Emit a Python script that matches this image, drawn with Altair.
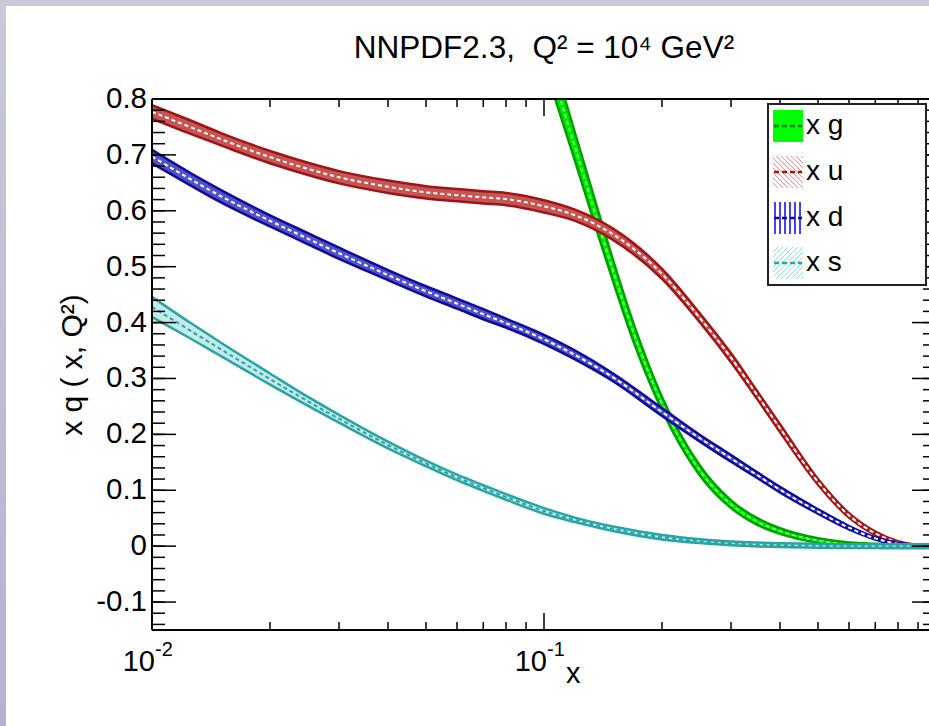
import math
import altair as alt
import pandas as pd

# ---------------- data ----------------
x_vals = [0.01, 0.0125, 0.015, 0.02, 0.025, 0.03, 0.04, 0.05, 0.06, 0.07, 0.08, 0.1,
          0.12, 0.15, 0.2, 0.25, 0.3, 0.35, 0.4, 0.5, 0.6, 0.7, 0.8, 0.9, 0.96]

xu = [0.777, 0.750, 0.728, 0.696, 0.675, 0.660, 0.643, 0.633, 0.628, 0.624, 0.621, 0.608,
      0.592, 0.558, 0.487, 0.408, 0.337, 0.270, 0.211, 0.115, 0.055, 0.023, 0.007, 0.001, 0.0]
xu_err = [0.012, 0.012, 0.011, 0.011, 0.011, 0.011, 0.011, 0.011, 0.011, 0.011, 0.011, 0.011,
          0.010, 0.010, 0.009, 0.008, 0.008, 0.007, 0.007, 0.005, 0.004, 0.003, 0.002, 0.001, 0.001]

xd = [0.697, 0.657, 0.626, 0.582, 0.550, 0.524, 0.485, 0.456, 0.434, 0.415, 0.399, 0.370,
      0.342, 0.302, 0.240, 0.193, 0.157, 0.127, 0.101, 0.062, 0.033, 0.014, 0.004, 0.0009, 0.0]
xd_err = [0.012, 0.011, 0.011, 0.010, 0.010, 0.010, 0.009, 0.009, 0.009, 0.009, 0.008, 0.008,
          0.008, 0.007, 0.007, 0.006, 0.006, 0.005, 0.005, 0.004, 0.003, 0.002, 0.002, 0.001, 0.001]

xs = [0.428, 0.386, 0.352, 0.299, 0.259, 0.228, 0.181, 0.148, 0.123, 0.104, 0.088, 0.063,
      0.047, 0.031, 0.016, 0.009, 0.005, 0.003, 0.0018, 0.0006, 0.0, 0.0, 0.0, 0.0, 0.0]
xs_err = [0.018, 0.014, 0.012, 0.010, 0.008, 0.007, 0.006, 0.005, 0.005, 0.005, 0.005, 0.005,
          0.004, 0.004, 0.004, 0.0035, 0.0035, 0.0035, 0.0035, 0.0035, 0.0035, 0.0035, 0.0035, 0.0035, 0.0035]

xg_x = [0.09, 0.1, 0.11, 0.12, 0.13, 0.14, 0.15, 0.17, 0.2, 0.25, 0.3, 0.35, 0.4,
        0.5, 0.6, 0.7, 0.8, 0.9, 0.96]
xg = [1.0, 0.893, 0.800, 0.714, 0.634, 0.560, 0.493, 0.378, 0.255, 0.135, 0.075, 0.044, 0.027,
      0.010, 0.003, 0.0008, 0.0, 0.0, 0.0]
xg_err = [0.035, 0.032, 0.028, 0.025, 0.023, 0.021, 0.019, 0.016, 0.012, 0.009, 0.007, 0.006,
          0.005, 0.004, 0.0035, 0.0035, 0.0035, 0.0035, 0.0035]

y_major = [-0.1, 0.0, 0.1, 0.2, 0.3, 0.4, 0.5, 0.6, 0.7, 0.8]
y_labels = ["-0.1", "0", "0.1", "0.2", "0.3", "0.4", "0.5", "0.6", "0.7", "0.8"]
y_minor = [round(-0.14 + 0.02 * i, 2) for i in range(48)]
x_major = [0.01, 0.1]
x_major_base = ["10", "10"]
x_major_exp = ["-2", "-1"]
x_minor = [k * 0.01 for k in range(2, 10)] + [k * 0.1 for k in range(2, 10)]

title_text = "NNPDF2.3,\u00a0\u00a0Q\u00b2 = 10\u2074 GeV\u00b2"
ytitle_text = "x q ( x, Q\u00b2)"

legend_names = ["x g", "x u", "x d", "x s"]

# ---------------- layout ----------------
W, H = 777, 531
PXDEC = 392.0
XMAX = 10 ** (W / PXDEC - 2)
FONT = "Liberation Sans"

xscale = alt.Scale(type="log", domain=[0.01, XMAX])
yscale = alt.Scale(domain=[-0.15, 0.8])


def X(f="x"):
    return alt.X(f"{f}:Q", scale=xscale, axis=None)


def Y(f):
    return alt.Y(f"{f}:Q", scale=yscale, axis=None)


def band(xs_, c, err, dark, fill, center):
    df = pd.DataFrame({"x": xs_, "c": c,
                       "lo": [a - e for a, e in zip(c, err)],
                       "hi": [a + e for a, e in zip(c, err)]})
    b = alt.Chart(df)
    area = b.mark_area(color=fill, clip=True, interpolate="monotone").encode(
        x=X(), y=Y("lo"), y2=alt.Y2("hi:Q"))
    lo = b.mark_line(color=dark, strokeWidth=2.5, clip=True, interpolate="monotone").encode(x=X(), y=Y("lo"))
    hi = b.mark_line(color=dark, strokeWidth=2.5, clip=True, interpolate="monotone").encode(x=X(), y=Y("hi"))
    cl = b.mark_line(color=center, strokeWidth=2, strokeDash=[4, 3], clip=True,
                     interpolate="monotone").encode(x=X(), y=Y("c"))
    return [area, lo, hi, cl]


layers = []
layers += band(xg_x, xg, xg_err, "#00a000", "#00e600", "#6cff6c")
layers += band(x_vals, xu, xu_err, "#a01414", "#c65656", "#ffffff")
layers += band(x_vals, xd, xd_err, "#0a0a9c", "#5252c6", "#ffffff")
layers += band(x_vals, xs, xs_err, "#28a4a4", "#c4eaea", "#28a4a4")

one = pd.DataFrame({"a": [0]})
# axis lines
layers.append(alt.Chart(one).mark_rule(color="black", strokeWidth=2).encode(
    x=alt.value(0), y=alt.value(0), y2=alt.value(H)))
layers.append(alt.Chart(one).mark_rule(color="black", strokeWidth=2).encode(
    x=alt.value(0), x2=alt.value(W), y=alt.value(H)))
layers.append(alt.Chart(one).mark_rule(color="black", strokeWidth=2).encode(
    x=alt.value(0), x2=alt.value(W), y=alt.value(0)))

RA = W + 7  # right axis position (outside the visible picture)
ymaj = pd.DataFrame({"v": y_major, "t": y_labels})
ymin = pd.DataFrame({"v": y_minor})
for df, L in ((ymaj, 24), (ymin, 13)):
    layers.append(alt.Chart(df).mark_rule(color="black", strokeWidth=1.5).encode(
        y=Y("v"), x=alt.value(0), x2=alt.value(L)))
    layers.append(alt.Chart(df).mark_rule(color="black", strokeWidth=1.5).encode(
        y=Y("v"), x=alt.value(RA - L), x2=alt.value(RA)))
xmaj = pd.DataFrame({"x": x_major, "b": x_major_base, "e": x_major_exp})
xmin = pd.DataFrame({"x": x_minor})
for df, L in ((xmaj, 17), (xmin, 8)):
    layers.append(alt.Chart(df).mark_rule(color="black", strokeWidth=1.5).encode(
        x=X(), y=alt.value(H), y2=alt.value(H - L)))
    layers.append(alt.Chart(df).mark_rule(color="black", strokeWidth=1.5).encode(
        x=X(), y=alt.value(0), y2=alt.value(L)))

# tick labels
layers.append(alt.Chart(ymaj).mark_text(align="right", baseline="middle", font=FONT, fontSize=29.5,
                                        dx=-5, color="black").encode(
    y=Y("v"), x=alt.value(0), text="t:N"))
layers.append(alt.Chart(xmaj).mark_text(align="right", baseline="alphabetic", font=FONT, fontSize=29,
                                        dx=3, color="black").encode(
    x=X(), y=alt.value(572), text="b:N"))
layers.append(alt.Chart(xmaj).mark_text(align="left", baseline="alphabetic", font=FONT, fontSize=20,
                                        dx=3, color="black").encode(
    x=X(), y=alt.value(557), text="e:N"))
# axis titles and title
layers.append(alt.Chart(pd.DataFrame({"x": [0.1], "t": ["x"]})).mark_text(
    align="left", baseline="alphabetic", font=FONT, fontSize=29, dx=22, color="black").encode(
    x=X(), y=alt.value(584), text="t:N"))
layers.append(alt.Chart(pd.DataFrame({"x": [0.1], "t": [title_text]})).mark_text(
    align="center", baseline="alphabetic", font=FONT, fontSize=31.5, color="black").encode(
    x=X(), y=alt.value(-41), text="t:N"))
layers.append(alt.Chart(pd.DataFrame({"t": [ytitle_text]})).mark_text(
    align="center", baseline="alphabetic", font=FONT, fontSize=30, angle=270, color="black").encode(
    x=alt.value(-70), y=alt.value(266), text="t:N"))

data_group = alt.layer(*layers)

# ---------------- decorations: legend box and page border ----------------
def PX(f):
    return alt.X(f"{f}:Q", scale=None, axis=None)


def PY(f):
    return alt.Y(f"{f}:Q", scale=None, axis=None)


def rects(rows, **kw):
    df = pd.DataFrame(rows, columns=["x0", "x1", "y0", "y1"])
    return alt.Chart(df).mark_rect(**kw).encode(x=PX("x0"), x2=alt.X2("x1:Q"), y=PY("y0"), y2=alt.Y2("y1:Q"))


def rules(rows, **kw):
    df = pd.DataFrame(rows, columns=["x0", "x1", "y0", "y1"])
    return alt.Chart(df).mark_rule(**kw).encode(x=PX("x0"), x2=alt.X2("x1:Q"), y=PY("y0"), y2=alt.Y2("y1:Q"))


def hatch(x0, x1, y0, y1, step, direction):
    segs = []
    h = y1 - y0
    k = -h
    while k < (x1 - x0):
        if direction > 0:  # "\" from top-left to bottom-right
            ax, ay, bx, by = x0 + k, y0, x0 + k + h, y1
        else:  # "/" from bottom-left to top-right
            ax, ay, bx, by = x0 + k, y1, x0 + k + h, y0
        t0, t1 = 0.0, 1.0
        dx, dy = bx - ax, by - ay
        for p, q in ((-dx, ax - x0), (dx, x1 - ax), (-dy, ay - y0), (dy, y1 - ay)):
            if p == 0:
                if q < 0:
                    t0, t1 = 1, 0
            else:
                r = q / p
                if p < 0:
                    t0 = max(t0, r)
                else:
                    t1 = min(t1, r)
        if t1 > t0:
            segs.append((ax + t0 * dx, ax + t1 * dx, ay + t0 * dy, ay + t1 * dy))
        k += step
    return segs


deco = []
# page border strips
deco.append(rects([(-152, W, -99, -93)], color="#c9c9d9"))
deco.append(rects([(-152, -146, -99, 627)], color=alt.LinearGradient(
    gradient="linear", x1=0, x2=0, y1=0, y2=1,
    stops=[alt.GradientStop(offset=0, color="#c9c9da"), alt.GradientStop(offset=1, color="#b3b3d3")])))

# legend frame
deco.append(rects([(616, 774, 5, 186)], fill="white", stroke="#222222", strokeWidth=2))
cys = [27, 73, 119, 164]
sx0, sx1 = 621, 651
deco.append(rects([(sx0, sx1, cys[0] - 16, cys[0] + 16)], color="#00ff00"))
deco.append(rules(hatch(sx0, sx1, cys[1] - 16, cys[1] + 16, 5, 1), color="#f08c8c", strokeWidth=1))
deco.append(rules([(sx0 + 2 + 5 * i, sx0 + 2 + 5 * i, cys[2] - 16, cys[2] + 16) for i in range(6)],
                  color="#0000ff", strokeWidth=1.5))
deco.append(rules(hatch(sx0, sx1, cys[3] - 16, cys[3] + 16, 5, -1), color="#88e4e4", strokeWidth=1))
for cy, col in zip(cys, ["#007a00", "#a01414", "#0a0a9c", "#28a4a4"]):
    deco.append(rules([(sx0 + 1, sx1 - 1, cy, cy)], color=col, strokeWidth=2.5, strokeDash=[5, 3]))
deco.append(alt.Chart(pd.DataFrame({"x": [654] * 4, "y": cys, "t": legend_names})).mark_text(
    align="left", baseline="middle", font=FONT, fontSize=28, color="black").encode(
    x=PX("x"), y=PY("y"), text="t:N"))

deco_group = alt.layer(*deco)

chart = alt.layer(data_group, deco_group).resolve_scale(x="independent", y="independent").properties(
    width=W, height=H,
    autosize=alt.AutoSizeParams(type="none"),
    padding={"left": 152, "top": 99, "right": 0, "bottom": 96},
    background="white",
).configure_view(stroke=None)

chart.save("out.html", embed_options={"renderer": "svg", "actions": False})
